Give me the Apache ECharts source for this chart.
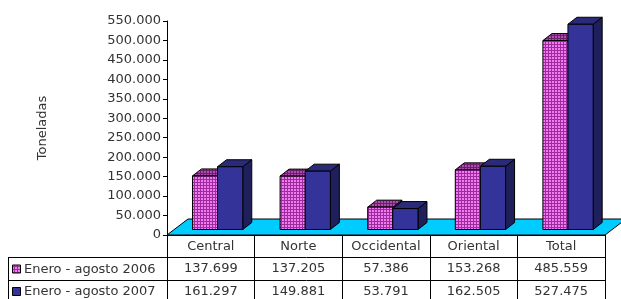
<!DOCTYPE html>
<html>
<head>
<meta charset="utf-8">
<script src="https://cdn.jsdelivr.net/npm/echarts@6/dist/echarts.min.js"></script>
<style>
  html, body { margin: 0; padding: 0; background: #fff; }
  #chart { width: 621px; height: 299px; }
</style>
</head>
<body>
<div id="chart"></div>
<script>
// datos del grafico
var categories = ["Central", "Norte", "Occidental", "Oriental", "Total"];
var seriesNames = ["Enero - agosto 2006", "Enero - agosto 2007"];
var values2006 = [137699, 137205, 57386, 153268, 485559];
var values2007 = [161297, 149881, 53791, 162505, 527475];
var yTicks = { min: 0, max: 550000, interval: 50000 };

// separador de miles con punto
function fmt(v) {
  return String(v).replace(/\B(?=(\d{3})+(?!\d))/g, ".");
}

function makePattern(bg, dot) {
  var c = document.createElement("canvas");
  c.width = 3;
  c.height = 3;
  var ctx = c.getContext("2d");
  ctx.fillStyle = bg;
  ctx.fillRect(0, 0, 3, 3);
  ctx.fillStyle = dot;
  ctx.fillRect(0, 0, 2, 2);
  return { image: c, repeat: "repeat" };
}

var pinkFront = makePattern("#9c2c9c", "#f27af2");
var pinkTop = makePattern("#6a206a", "#b04cb0");
var pinkSide = makePattern("#5a1a5a", "#963c96");

var faces = [
  { front: pinkFront, side: pinkSide, top: pinkTop, start: 0.291 },
  { front: "#333399", side: "#1f1f5c", top: "#2a2a78", start: 0.577 },
];

// barras 3D dibujadas con las escalas del grafico
function render3d(k) {
  var f = faces[k];
  return function (params, api) {
    var idx = api.value(0);
    var c = api.coord([idx, api.value(1)]);
    var b = api.coord([idx, 0]);
    var bw = api.size([1, 0])[0];
    var lift = 5.5, dx = 9, dy = 7;
    var x0 = c[0] - bw / 2 + bw * f.start;
    var w = bw * 0.288;
    var yt = c[1] - lift;
    var yb = b[1] - lift;
    var st = { stroke: "#000", lineWidth: 1 };
    return {
      type: "group",
      children: [
        {
          type: "polygon",
          shape: { points: [[x0 + w, yt], [x0 + w + dx, yt - dy], [x0 + w + dx, yb - dy], [x0 + w, yb]] },
          style: Object.assign({ fill: f.side }, st),
        },
        {
          type: "polygon",
          shape: { points: [[x0, yt], [x0 + dx, yt - dy], [x0 + w + dx, yt - dy], [x0 + w, yt]] },
          style: Object.assign({ fill: f.top }, st),
        },
        {
          type: "rect",
          shape: { x: x0, y: yt, width: w, height: yb - yt },
          style: Object.assign({ fill: f.front }, st),
        },
      ],
    };
  };
}

var chart = echarts.init(document.getElementById("chart"));
var font = "DejaVu Sans";
var txt = "#333";

var gridL = 167, gridR = 605, gridT = 21, gridB = 235;

var graphics = [
  // piso
  {
    type: "polygon",
    z: 0,
    shape: { points: [[gridL, gridB], [gridR, gridB], [gridR + 21, gridB - 16], [gridL + 21, gridB - 16]] },
    style: { fill: "#00ccff", stroke: "#000", lineWidth: 1 },
  },
  { type: "line", z: 5, shape: { x1: 8, y1: 257.5, x2: gridR, y2: 257.5 }, style: { stroke: "#000", lineWidth: 1 } },
  { type: "line", z: 5, shape: { x1: 8, y1: 280.5, x2: gridR, y2: 280.5 }, style: { stroke: "#000", lineWidth: 1 } },
  { type: "line", z: 5, shape: { x1: 8.5, y1: 257.5, x2: 8.5, y2: 299 }, style: { stroke: "#000", lineWidth: 1 } },
];

var swatches = [pinkFront, "#333399"];
seriesNames.forEach(function (name, i) {
  var yc = 269.5 + i * 22.5;
  graphics.push({
    type: "rect",
    z: 5,
    shape: { x: 12.5, y: yc - 4.5, width: 8, height: 8 },
    style: { fill: swatches[i], stroke: "#000", lineWidth: 1 },
  });
  graphics.push({
    type: "text",
    z: 5,
    x: 24,
    y: yc,
    style: { text: name, font: "13px " + font, fill: txt, verticalAlign: "middle" },
  });
});

var rowAxis = function (vals, off) {
  return {
    type: "category",
    gridIndex: 0,
    data: categories,
    position: "bottom",
    offset: off,
    axisLine: { show: false },
    axisTick: { show: false },
    axisLabel: {
      margin: 4,
      fontFamily: font,
      fontSize: 13,
      color: txt,
      interval: 0,
      formatter: function (v, i) { return fmt(vals[i]); },
    },
  };
};

chart.setOption({
  animation: false,
  grid: { left: gridL, right: 621 - gridR, top: gridT, bottom: 299 - gridB, containLabel: false },
  xAxis: [
    {
      type: "category",
      data: categories,
      position: "bottom",
      axisLine: { show: true, lineStyle: { color: "#000", width: 1 } },
      axisTick: { show: true, inside: false, length: 70, lineStyle: { color: "#000" } },
      axisLabel: { margin: 5, fontFamily: font, fontSize: 13, color: txt, interval: 0 },
    },
    rowAxis(values2006, 23.5),
    rowAxis(values2007, 46),
  ],
  yAxis: {
    type: "value",
    min: yTicks.min,
    max: yTicks.max,
    interval: yTicks.interval,
    name: "Toneladas",
    nameLocation: "middle",
    nameRotate: 90,
    nameGap: 118,
    nameTextStyle: { fontFamily: font, fontSize: 13, color: txt },
    axisLine: { show: true, lineStyle: { color: "#000", width: 1 } },
    axisTick: { show: true, length: 4, lineStyle: { color: "#000" } },
    splitLine: { show: false },
    axisLabel: {
      margin: 6,
      fontFamily: font,
      fontSize: 13,
      color: txt,
      formatter: function (v) { return fmt(v); },
    },
  },
  graphic: graphics,
  series: [
    {
      name: seriesNames[0],
      type: "custom",
      renderItem: render3d(0),
      data: values2006.map(function (v, i) { return [i, v]; }),
      z: 2,
    },
    {
      name: seriesNames[1],
      type: "custom",
      renderItem: render3d(1),
      data: values2007.map(function (v, i) { return [i, v]; }),
      z: 3,
    },
  ],
});
</script>
</body>
</html>
